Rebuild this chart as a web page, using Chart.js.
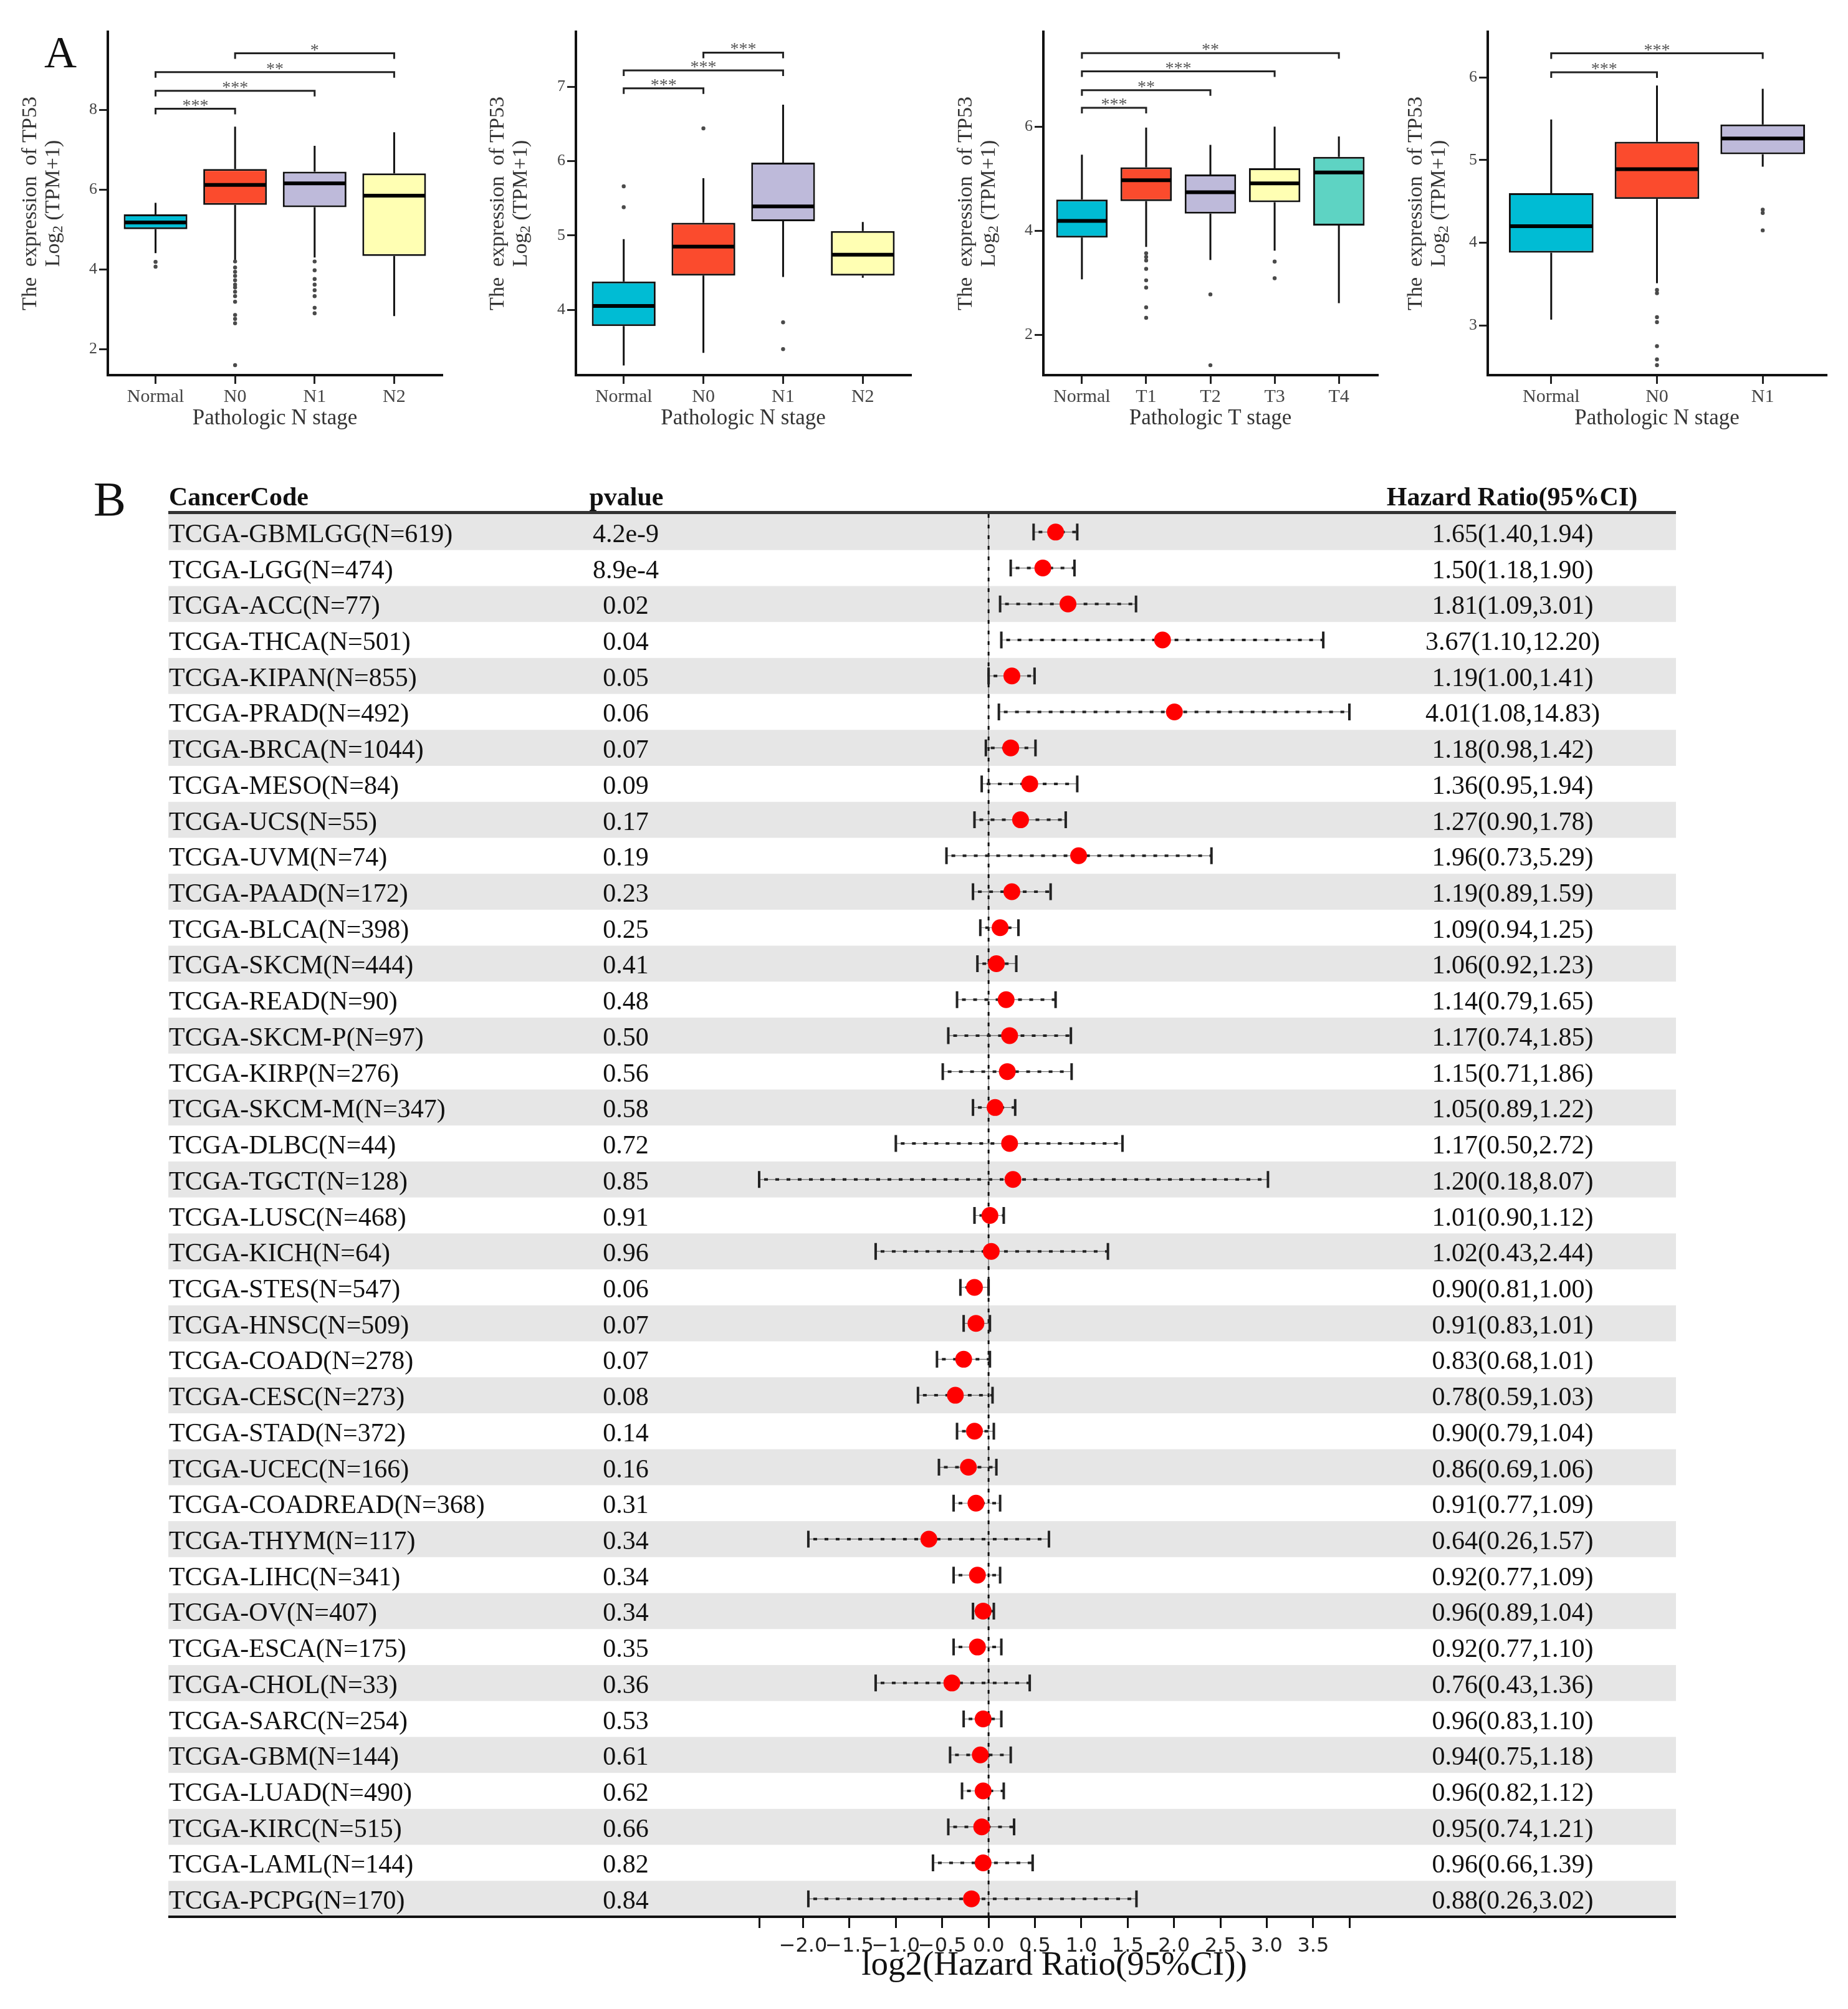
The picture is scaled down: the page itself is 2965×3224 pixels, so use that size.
<!DOCTYPE html>
<html>
<head>
<meta charset="utf-8">
<script src="https://cdn.jsdelivr.net/npm/chart.js@4.4.1/dist/chart.umd.min.js"></script>
<style>
  html, body { margin: 0; padding: 0; background: #fff; }
  body { width: 2965px; height: 3224px; position: relative; overflow: hidden; }
  canvas { position: absolute; }
</style>
</head>
<body>
<canvas id="boxN1" width="740" height="720" style="left:0;top:0"></canvas>
<canvas id="boxN2" width="740" height="720" style="left:740px;top:0"></canvas>
<canvas id="boxT" width="740" height="720" style="left:1480px;top:0"></canvas>
<canvas id="boxN3" width="745" height="720" style="left:2220px;top:0"></canvas>
<canvas id="forest" width="2965" height="2484" style="left:0;top:740px"></canvas>
<script>
// ---- Panel A : TP53 expression by stage (box plots) ----
const stageColors = ['#00BCD4', '#FB4B2D', '#BEBADA', '#FFFFB3', '#5ED3C3'];

// chart 1 - Pathologic N stage
const n1Groups = ['Normal', 'N0', 'N1', 'N2'];
const n1Low = [4.41, 4.23, 4.30, 2.83];
const n1Q1 = [5.01, 5.62, 5.56, 4.34];
const n1Median = [5.18, 6.12, 6.16, 5.85];
const n1Q3 = [5.38, 6.52, 6.45, 6.41];
const n1High = [5.67, 7.58, 7.10, 7.44];
const n1Outliers = [
  [4.19, 4.07],
  [4.20, 4.05, 3.94, 3.84, 3.73, 3.62, 3.55, 3.44, 3.33, 3.19, 2.86, 2.76, 2.65, 1.60],
  [4.20, 3.98, 3.76, 3.62, 3.48, 3.33, 3.04, 2.90],
  []
];
const n1Ticks = [2, 4, 6, 8];
const n1Sig = [[0, 1, 8.03, '***'], [0, 2, 8.48, '***'], [0, 3, 8.95, '**'], [1, 3, 9.42, '*']];

// chart 2 - Pathologic N stage
const n2Groups = ['Normal', 'N0', 'N1', 'N2'];
const n2Low = [3.25, 3.42, 4.44, 4.43];
const n2Q1 = [3.78, 4.46, 5.19, 4.46];
const n2Median = [4.05, 4.85, 5.39, 4.74];
const n2Q3 = [4.38, 5.17, 5.98, 5.06];
const n2High = [4.95, 5.77, 6.76, 5.18];
const n2Outliers = [[5.66, 5.38], [6.44], [3.83, 3.47], []];
const n2Ticks = [4, 5, 6, 7];
const n2Sig = [[0, 1, 6.98, '***'], [0, 2, 7.22, '***'], [1, 2, 7.46, '***']];

// chart 3 - Pathologic T stage
const tGroups = ['Normal', 'T1', 'T2', 'T3', 'T4'];
const tLow = [3.07, 3.69, 3.44, 3.62, 2.61];
const tQ1 = [3.87, 4.57, 4.33, 4.55, 4.10];
const tMedian = [4.19, 4.97, 4.74, 4.91, 5.12];
const tQ3 = [4.60, 5.22, 5.08, 5.20, 5.42];
const tHigh = [5.46, 5.98, 5.65, 6.00, 5.81];
const tOutliers = [[], [3.57, 3.50, 3.43, 3.27, 3.05, 2.91, 2.53, 2.33], [2.78, 1.42], [3.41, 3.09], []];
const tTicks = [2, 4, 6];
const tSig = [[0, 1, 6.36, '***'], [0, 2, 6.70, '**'], [0, 3, 7.06, '***'], [0, 4, 7.41, '**']];

// chart 4 - Pathologic N stage
const n3Groups = ['Normal', 'N0', 'N1'];
const n3Low = [3.07, 3.51, 4.92];
const n3Q1 = [3.88, 4.53, 5.07];
const n3Median = [4.20, 4.89, 5.26];
const n3Q3 = [4.60, 5.22, 5.43];
const n3High = [5.49, 5.90, 5.86];
const n3Outliers = [[], [3.43, 3.39, 3.10, 3.04, 2.75, 2.59, 2.52], [4.40, 4.36, 4.15]];
const n3Ticks = [3, 4, 5, 6];
const n3Sig = [[0, 1, 6.06, '***'], [0, 2, 6.29, '***']];

// ---- Panel B : forest plot ----
const cancerCodes = [
  'TCGA-GBMLGG(N=619)', 'TCGA-LGG(N=474)', 'TCGA-ACC(N=77)', 'TCGA-THCA(N=501)', 'TCGA-KIPAN(N=855)',
  'TCGA-PRAD(N=492)', 'TCGA-BRCA(N=1044)', 'TCGA-MESO(N=84)', 'TCGA-UCS(N=55)', 'TCGA-UVM(N=74)',
  'TCGA-PAAD(N=172)', 'TCGA-BLCA(N=398)', 'TCGA-SKCM(N=444)', 'TCGA-READ(N=90)', 'TCGA-SKCM-P(N=97)',
  'TCGA-KIRP(N=276)', 'TCGA-SKCM-M(N=347)', 'TCGA-DLBC(N=44)', 'TCGA-TGCT(N=128)', 'TCGA-LUSC(N=468)',
  'TCGA-KICH(N=64)', 'TCGA-STES(N=547)', 'TCGA-HNSC(N=509)', 'TCGA-COAD(N=278)', 'TCGA-CESC(N=273)',
  'TCGA-STAD(N=372)', 'TCGA-UCEC(N=166)', 'TCGA-COADREAD(N=368)', 'TCGA-THYM(N=117)', 'TCGA-LIHC(N=341)',
  'TCGA-OV(N=407)', 'TCGA-ESCA(N=175)', 'TCGA-CHOL(N=33)', 'TCGA-SARC(N=254)', 'TCGA-GBM(N=144)',
  'TCGA-LUAD(N=490)', 'TCGA-KIRC(N=515)', 'TCGA-LAML(N=144)', 'TCGA-PCPG(N=170)'
];
const pValues = [
  '4.2e-9', '8.9e-4', '0.02', '0.04', '0.05', '0.06', '0.07', '0.09', '0.17', '0.19',
  '0.23', '0.25', '0.41', '0.48', '0.50', '0.56', '0.58', '0.72', '0.85', '0.91',
  '0.96', '0.06', '0.07', '0.07', '0.08', '0.14', '0.16', '0.31', '0.34', '0.34',
  '0.34', '0.35', '0.36', '0.53', '0.61', '0.62', '0.66', '0.82', '0.84'
];
const hazardRatio = [
  1.65, 1.50, 1.81, 3.67, 1.19, 4.01, 1.18, 1.36, 1.27, 1.96,
  1.19, 1.09, 1.06, 1.14, 1.17, 1.15, 1.05, 1.17, 1.20, 1.01,
  1.02, 0.90, 0.91, 0.83, 0.78, 0.90, 0.86, 0.91, 0.64, 0.92,
  0.96, 0.92, 0.76, 0.96, 0.94, 0.96, 0.95, 0.96, 0.88
];
const hrLower = [
  1.40, 1.18, 1.09, 1.10, 1.00, 1.08, 0.98, 0.95, 0.90, 0.73,
  0.89, 0.94, 0.92, 0.79, 0.74, 0.71, 0.89, 0.50, 0.18, 0.90,
  0.43, 0.81, 0.83, 0.68, 0.59, 0.79, 0.69, 0.77, 0.26, 0.77,
  0.89, 0.77, 0.43, 0.83, 0.75, 0.82, 0.74, 0.66, 0.26
];
const hrUpper = [
  1.94, 1.90, 3.01, 12.20, 1.41, 14.83, 1.42, 1.94, 1.78, 5.29,
  1.59, 1.25, 1.23, 1.65, 1.85, 1.86, 1.22, 2.72, 8.07, 1.12,
  2.44, 1.00, 1.01, 1.01, 1.03, 1.04, 1.06, 1.09, 1.57, 1.09,
  1.04, 1.10, 1.36, 1.10, 1.18, 1.12, 1.21, 1.39, 3.02
];
const forestTicks = [-2.0, -1.5, -1.0, -0.5, 0.0, 0.5, 1.0, 1.5, 2.0, 2.5, 3.0, 3.5];

Chart.defaults.animation = false;
Chart.defaults.font.family = '"Liberation Serif", "Times New Roman", serif';
Chart.defaults.plugins.legend.display = false;
Chart.defaults.plugins.tooltip.enabled = false;

const SERIF = '"Liberation Serif", "Times New Roman", serif';

function boxChart(id, d) {
  const boxes = d.groups.map((g, i) => ({x: i + 1, y: [d.q1[i], d.q3[i]]}));
  const points = [];
  d.out.forEach((vals, i) => vals.forEach(v => points.push({x: i + 1, y: v})));

  const extras = {
    id: 'boxExtras',
    beforeDatasetsDraw(chart) {
      const {ctx, scales: {x, y}} = chart;
      ctx.save();
      ctx.strokeStyle = '#111';
      ctx.lineWidth = 3;
      d.groups.forEach((g, i) => {
        const px = x.getPixelForValue(i + 1);
        ctx.beginPath();
        ctx.moveTo(px, y.getPixelForValue(d.hi[i]));
        ctx.lineTo(px, y.getPixelForValue(d.q3[i]));
        ctx.moveTo(px, y.getPixelForValue(d.q1[i]));
        ctx.lineTo(px, y.getPixelForValue(d.lo[i]));
        ctx.stroke();
      });
      ctx.restore();
    },
    afterDatasetsDraw(chart) {
      const {ctx, chartArea, scales: {x, y}} = chart;
      const bars = chart.getDatasetMeta(0).data;
      ctx.save();
      // medians
      ctx.strokeStyle = '#000';
      ctx.lineWidth = 6;
      bars.forEach((bar, i) => {
        const py = y.getPixelForValue(d.med[i]);
        ctx.beginPath();
        ctx.moveTo(bar.x - bar.width / 2 + 1.5, py);
        ctx.lineTo(bar.x + bar.width / 2 - 1.5, py);
        ctx.stroke();
      });
      // significance brackets
      ctx.lineWidth = 3;
      ctx.strokeStyle = '#222';
      ctx.fillStyle = '#555';
      ctx.font = '28px ' + SERIF;
      ctx.textAlign = 'center';
      ctx.textBaseline = 'alphabetic';
      d.sig.forEach(([a, b, v, lab]) => {
        const x1 = x.getPixelForValue(a + 1), x2 = x.getPixelForValue(b + 1);
        const py = y.getPixelForValue(v);
        ctx.beginPath();
        ctx.moveTo(x1, py + 9); ctx.lineTo(x1, py); ctx.lineTo(x2, py); ctx.lineTo(x2, py + 9);
        ctx.stroke();
        ctx.fillText(lab, (x1 + x2) / 2, py + 3);
      });
      // y axis title, two lines with subscript
      const cy = (chartArea.top + chartArea.bottom) / 2;
      ctx.fillStyle = '#333';
      ctx.translate(chartArea.left - d.titleGap, cy);
      ctx.rotate(-Math.PI / 2);
      ctx.textBaseline = 'middle';
      ctx.font = '34px ' + SERIF;
      ctx.fillText('The  expression  of TP53', 0, 0);
      const big = '34px ' + SERIF, small = '23px ' + SERIF;
      ctx.font = big;
      const wLog = ctx.measureText('Log').width, wRest = ctx.measureText(' (TPM+1)').width;
      ctx.font = small;
      const wSub = ctx.measureText('2').width;
      let sx = -(wLog + wSub + wRest) / 2;
      const ly = 37;
      ctx.textAlign = 'left';
      ctx.font = big; ctx.fillText('Log', sx, ly); sx += wLog;
      ctx.font = small; ctx.fillText('2', sx, ly + 8); sx += wSub;
      ctx.font = big; ctx.fillText(' (TPM+1)', sx, ly);
      ctx.restore();
      if (d.letter) {
        ctx.save();
        ctx.fillStyle = '#111';
        ctx.font = '72px ' + SERIF;
        ctx.textBaseline = 'alphabetic';
        ctx.fillText(d.letter, 71, 108);
        ctx.restore();
      }
    }
  };

  return new Chart(document.getElementById(id), {
    type: 'bar',
    data: {
      datasets: [{
        type: 'bar',
        data: boxes,
        backgroundColor: stageColors.slice(0, d.groups.length),
        borderColor: '#111',
        borderWidth: 3,
        borderSkipped: false,
        barPercentage: 0.8,
        categoryPercentage: 1
      }, {
        type: 'scatter',
        data: points,
        pointRadius: 3.2,
        pointBackgroundColor: '#4a4a4a',
        pointBorderWidth: 0
      }]
    },
    options: {
      responsive: false,
      devicePixelRatio: 1,
      layout: { padding: { left: 0, right: d.rightPad, top: 51, bottom: 0 } },
      scales: {
        x: {
          type: 'linear',
          offset: false,
          min: 0.4,
          max: d.groups.length + 0.6,
          afterBuildTicks: s => { s.ticks = d.groups.map((g, i) => ({value: i + 1})); },
          afterFit: s => { s.height = 118; },
          ticks: {
            autoSkip: false, maxRotation: 0, minRotation: 0, padding: 3,
            color: '#444', font: { size: 30 },
            callback: v => d.groups[Math.round(v) - 1]
          },
          grid: { offset: false, drawOnChartArea: false, drawTicks: true, tickLength: 14, lineWidth: 3, color: '#222' },
          border: { display: true, color: '#111', width: 4 },
          title: {
            display: true, text: d.xTitle, color: '#333',
            font: { size: 35, lineHeight: 1.2 }, padding: { top: 0, bottom: 27 }
          }
        },
        y: {
          type: 'linear',
          min: d.yMin,
          max: d.yMax,
          afterBuildTicks: s => { s.ticks = d.ticks.map(v => ({value: v})); },
          afterFit: s => { s.width = d.axisW; },
          ticks: { color: '#444', font: { size: 26 }, padding: 3 },
          grid: { drawOnChartArea: false, drawTicks: true, tickLength: 14, lineWidth: 3, color: '#222' },
          border: { display: true, color: '#111', width: 4 }
        }
      }
    },
    plugins: [extras]
  });
}

boxChart('boxN1', {
  groups: n1Groups, lo: n1Low, q1: n1Q1, med: n1Median, q3: n1Q3, hi: n1High, out: n1Outliers,
  ticks: n1Ticks, sig: n1Sig, yMin: 1.35, yMax: 9.96, axisW: 173, rightPad: 31, titleGap: 124,
  xTitle: 'Pathologic N stage', letter: 'A'
});
boxChart('boxN2', {
  groups: n2Groups, lo: n2Low, q1: n2Q1, med: n2Median, q3: n2Q3, hi: n2High, out: n2Outliers,
  ticks: n2Ticks, sig: n2Sig, yMin: 3.12, yMax: 7.74, axisW: 184, rightPad: 19, titleGap: 125,
  xTitle: 'Pathologic N stage'
});
boxChart('boxT', {
  groups: tGroups, lo: tLow, q1: tQ1, med: tMedian, q3: tQ3, hi: tHigh, out: tOutliers,
  ticks: tTicks, sig: tSig, yMin: 1.23, yMax: 7.82, axisW: 194, rightPad: 10, titleGap: 124,
  xTitle: 'Pathologic T stage'
});
boxChart('boxN3', {
  groups: n3Groups, lo: n3Low, q1: n3Q1, med: n3Median, q3: n3Q3, hi: n3High, out: n3Outliers,
  ticks: n3Ticks, sig: n3Sig, yMin: 2.40, yMax: 6.55, axisW: 167, rightPad: 35, titleGap: 115,
  xTitle: 'Pathologic N stage'
});

// forest plot: table text, bands, CI whiskers
function hrText(i) {
  return hazardRatio[i].toFixed(2) + '(' + hrLower[i].toFixed(2) + ',' + hrUpper[i].toFixed(2) + ')';
}

const forestTable = {
  id: 'forestTable',
  beforeDraw(chart) {
    const {ctx, chartArea, scales: {y}} = chart;
    const rowH = (chartArea.bottom - chartArea.top) / cancerCodes.length;
    const tableLeft = 270, tableW = 2419;
    ctx.save();
    // alternating bands
    ctx.fillStyle = '#E6E6E6';
    cancerCodes.forEach((c, i) => {
      if (i % 2 === 0) {
        const cy = y.getPixelForValue(i);
        ctx.fillRect(tableLeft, cy - rowH / 2, tableW, rowH);
      }
    });
    // header
    ctx.fillStyle = '#111';
    ctx.textBaseline = 'alphabetic';
    ctx.font = 'bold 42px ' + SERIF;
    ctx.textAlign = 'left';
    ctx.fillText('CancerCode', 271, chartArea.top - 14);
    ctx.textAlign = 'center';
    ctx.fillText('pvalue', 1005, chartArea.top - 14);
    ctx.fillText('Hazard Ratio(95%CI)', 2426, chartArea.top - 14);
    ctx.fillStyle = '#333';
    ctx.fillRect(tableLeft, chartArea.top - 5, tableW, 5);
    // rows
    ctx.fillStyle = '#111';
    ctx.font = '42px ' + SERIF;
    cancerCodes.forEach((c, i) => {
      const by = y.getPixelForValue(i) + 16;
      ctx.textAlign = 'left';
      ctx.fillText(c, 271, by);
      ctx.textAlign = 'center';
      ctx.fillText(pValues[i], 1004, by);
      ctx.fillText(hrText(i), 2427, by);
    });
    // bottom rule
    ctx.fillStyle = '#111';
    ctx.fillRect(tableLeft, chartArea.bottom - 2, tableW, 4);
    // panel letter
    ctx.font = '78px ' + SERIF;
    ctx.textAlign = 'left';
    ctx.fillText('B', 150, 87);
    ctx.restore();
  },
  beforeDatasetsDraw(chart) {
    const {ctx, chartArea, scales: {x, y}} = chart;
    const x0 = x.getPixelForValue(0);
    ctx.save();
    // reference line at log2(HR) = 0
    ctx.strokeStyle = 'rgba(0,0,0,0.55)';
    ctx.lineWidth = 1.2;
    ctx.beginPath(); ctx.moveTo(x0, chartArea.top); ctx.lineTo(x0, chartArea.bottom); ctx.stroke();
    ctx.strokeStyle = '#111';
    ctx.lineWidth = 3;
    ctx.setLineDash([6, 11]);
    ctx.beginPath(); ctx.moveTo(x0, chartArea.top); ctx.lineTo(x0, chartArea.bottom); ctx.stroke();
    // confidence intervals
    hrLower.forEach((lo, i) => {
      const py = y.getPixelForValue(i);
      const xa = x.getPixelForValue(Math.log2(lo));
      const xb = x.getPixelForValue(Math.log2(hrUpper[i]));
      ctx.setLineDash([]);
      ctx.strokeStyle = 'rgba(0,0,0,0.55)';
      ctx.lineWidth = 1.2;
      ctx.beginPath(); ctx.moveTo(xa, py); ctx.lineTo(xb, py); ctx.stroke();
      ctx.strokeStyle = '#222';
      ctx.lineWidth = 4;
      ctx.setLineDash([6, 12]);
      ctx.beginPath(); ctx.moveTo(xa + 8, py); ctx.lineTo(xb, py); ctx.stroke();
      ctx.setLineDash([]);
      ctx.lineWidth = 4;
      ctx.beginPath();
      ctx.moveTo(xa, py - 13.5); ctx.lineTo(xa, py + 13.5);
      ctx.moveTo(xb, py - 13.5); ctx.lineTo(xb, py + 13.5);
      ctx.stroke();
    });
    ctx.restore();
  }
};

function tickText(v) {
  return (v < 0 ? '\u2212' : '') + Math.abs(v).toFixed(1);
}

new Chart(document.getElementById('forest'), {
  type: 'scatter',
  data: {
    datasets: [{
      data: hazardRatio.map((v, i) => ({x: Math.log2(v), y: i})),
      pointRadius: 13.5,
      pointHoverRadius: 13.5,
      pointBackgroundColor: '#FF0000',
      pointBorderWidth: 0
    }]
  },
  options: {
    responsive: false,
    devicePixelRatio: 1,
    layout: { padding: { left: 1218, right: 800, top: 85, bottom: 0 } },
    scales: {
      x: {
        type: 'linear',
        min: Math.log2(Math.min(...hrLower)),
        max: Math.log2(Math.max(...hrUpper)),
        afterBuildTicks: s => { s.ticks = [s.min, ...forestTicks, s.max].map(v => ({value: v})); },
        afterFit: s => { s.height = 148; },
        ticks: {
          autoSkip: false, maxRotation: 0, minRotation: 0, padding: 10,
          color: '#222', font: { family: '"DejaVu Sans", sans-serif', size: 32 },
          callback: (v, i, t) => (i === 0 || i === t.length - 1) ? '' : tickText(v)
        },
        grid: { drawOnChartArea: false, drawTicks: true, tickLength: 18, lineWidth: 3, color: '#111' },
        border: { display: false },
        title: {
          display: true, text: 'log2(Hazard Ratio(95%CI))', color: '#111',
          font: { size: 55, lineHeight: 1 }, padding: { top: 0, bottom: 42 }
        }
      },
      y: {
        type: 'category',
        labels: cancerCodes,
        offset: true,
        display: false
      }
    }
  },
  plugins: [forestTable]
});
</script>
</body>
</html>
